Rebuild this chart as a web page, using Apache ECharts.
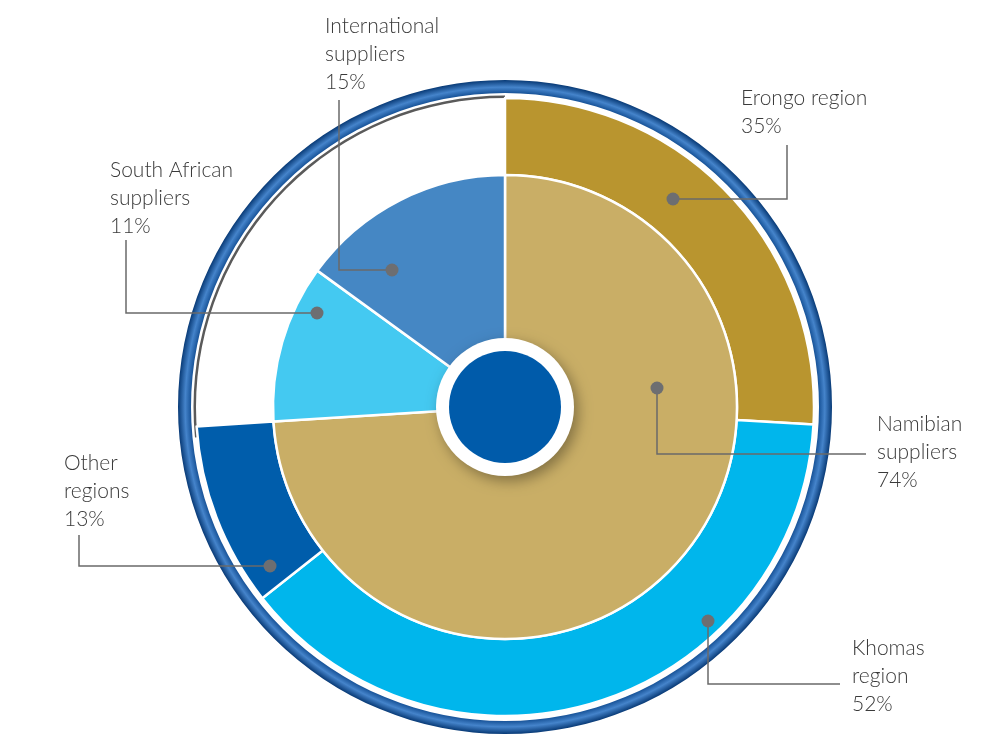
<!DOCTYPE html>
<html>
<head>
<meta charset="utf-8">
<script src="https://cdn.jsdelivr.net/npm/echarts@6/dist/echarts.min.js"></script>
<style>
  html, body { margin: 0; padding: 0; background: #fff; }
  #chart { width: 989px; height: 736px; }
</style>
</head>
<body>
<div id="chart"></div>
<script>
// data
const supplierNames = ['Namibian\nsuppliers', 'South African\nsuppliers', 'International\nsuppliers'];
const supplierShares = [74, 11, 15];
const regionNames = ['Erongo region', 'Khomas\nregion', 'Other\nregions'];
const regionShares = [35, 52, 13]; // split of the Namibian share

const supplierColors = ['#C9AE66', '#44C9F1', '#4587C4'];
const regionColors = ['#B9952F', '#00B6EC', '#005DAB'];

// geometry
const cx = 505, cy = 407;
const namibArc = 360 * supplierShares[0] / 100;

// label / leader layout: label top-left and leader points (dot first)
const callouts = {
  'International\nsuppliers': { x: 325, y: 12, pts: [[392, 270], [339, 270], [339, 100]] },
  'South African\nsuppliers': { x: 110, y: 156, pts: [[317, 313], [126, 313], [126, 240]] },
  'Namibian\nsuppliers':      { x: 877, y: 410, pts: [[657, 388], [657, 454], [866, 454]] },
  'Erongo region':            { x: 741, y: 84,  pts: [[673, 199], [787, 199], [787, 145]] },
  'Khomas\nregion':           { x: 852, y: 634, pts: [[708, 621], [708, 684], [840, 684]] },
  'Other\nregions':           { x: 64,  y: 449, pts: [[270, 566], [79, 566], [79, 535]] }
};

const chart = echarts.init(document.getElementById('chart'));

function layoutFor(names) {
  return function (params) {
    const c = callouts[names[params.dataIndex]];
    return { x: c.x, y: c.y, align: 'left', verticalAlign: 'top' };
  };
}

const labelStyle = {
  show: true,
  position: 'outside',
  fontFamily: 'Lato',
  fontWeight: 300,
  fontSize: 21,
  lineHeight: 28,
  color: '#3a3a3a',
  formatter: p => p.name + '\n' + p.value + '%'
};

// leader lines and dots drawn on top of the rings
const leaders = [];
Object.keys(callouts).forEach(k => {
  const c = callouts[k];
  leaders.push({
    type: 'polyline', z: 99, silent: true,
    shape: { points: c.pts },
    style: { stroke: '#6a6a6a', lineWidth: 1.5, fill: null }
  });
  leaders.push({
    type: 'circle', z: 100, silent: true,
    shape: { cx: c.pts[0][0], cy: c.pts[0][1], r: 6.5 },
    style: { fill: '#6d6e71' }
  });
});

const option = {
  backgroundColor: '#fff',
  animation: false,
  graphic: leaders,
  series: [
    {
      // outer blue rim
      type: 'pie', silent: true, z: 1,
      center: [cx, cy], radius: [314, 327],
      label: { show: false }, labelLine: { show: false },
      itemStyle: {
        color: {
          type: 'radial', x: cx, y: cy, r: 327, global: true,
          colorStops: [
            { offset: 0.958, color: '#124d92' },
            { offset: 0.978, color: '#4584cb' },
            { offset: 1, color: '#083a76' }
          ]
        }
      },
      data: [{ value: 1 }]
    },
    {
      // thin grey arc over the empty part
      type: 'pie', silent: true, z: 2,
      center: [cx, cy], radius: [309, 311.5],
      startAngle: 90 - namibArc + 2, endAngle: -270,
      label: { show: false }, labelLine: { show: false },
      itemStyle: { color: '#5a5a5a' },
      data: [{ value: 1 }]
    },
    {
      // regions (outer ring), spanning the Namibian share only
      type: 'pie', z: 3,
      center: [cx, cy], radius: [232, 309],
      startAngle: 90, endAngle: 90 - namibArc,
      clockwise: true,
      avoidLabelOverlap: false,
      label: labelStyle,
      labelLine: { show: false },
      labelLayout: layoutFor(regionNames),
      itemStyle: { borderColor: '#fff', borderWidth: 2.5 },
      emphasis: { disabled: true },
      data: regionNames.map((n, i) => ({ name: n, value: regionShares[i], itemStyle: { color: regionColors[i] } }))
    },
    {
      // suppliers (inner pie)
      type: 'pie', z: 4,
      center: [cx, cy], radius: [0, 232],
      startAngle: 90, clockwise: true,
      avoidLabelOverlap: false,
      label: labelStyle,
      labelLine: { show: false },
      labelLayout: layoutFor(supplierNames),
      itemStyle: { borderColor: '#fff', borderWidth: 2.5 },
      emphasis: { disabled: true },
      data: supplierNames.map((n, i) => ({ name: n, value: supplierShares[i], itemStyle: { color: supplierColors[i] } }))
    },
    {
      // white collar of the hub
      type: 'pie', silent: true, z: 5,
      center: [cx, cy], radius: [0, 69],
      label: { show: false }, labelLine: { show: false },
      itemStyle: {
        color: '#fff', shadowBlur: 14, shadowColor: 'rgba(0,0,0,0.35)',
        shadowOffsetX: 4, shadowOffsetY: 5
      },
      data: [{ value: 1 }]
    },
    {
      // blue hub
      type: 'pie', silent: true, z: 6,
      center: [cx, cy], radius: [0, 56],
      label: { show: false }, labelLine: { show: false },
      itemStyle: { color: '#005BAA' },
      data: [{ value: 1 }]
    }
  ]
};

chart.setOption(option);
window.onresize = function () { chart.resize(); };
</script>
</body>
</html>
